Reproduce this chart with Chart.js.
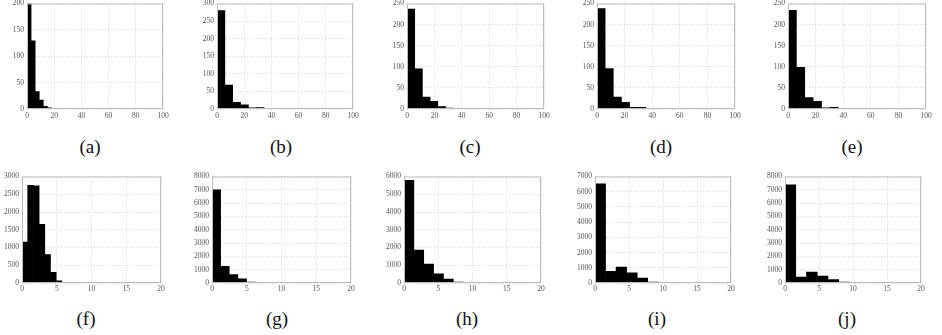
<!DOCTYPE html>
<html>
<head>
<meta charset="utf-8">
<script src="https://cdn.jsdelivr.net/npm/chart.js@4/dist/chart.umd.min.js"></script>
<style>
body { margin: 0; background: #fff; width: 942px; height: 335px; position: relative; overflow: hidden; font-family: "Liberation Serif", serif; }
canvas { position: absolute; }
.cap { position: absolute; font-size: 19px; color: #111; transform: translate(-50%, -50%); white-space: nowrap; }
</style>
</head>
<body>
<script>
// histogram counts per panel
const captions = ["(a)", "(b)", "(c)", "(d)", "(e)", "(f)", "(g)", "(h)", "(i)", "(j)"];
const binWidth = [3, 5.77, 5.62, 5.9, 6.07, 0.82, 1.24, 1.44, 1.55, 1.58];

const countsA = [200, 129, 33, 17, 5, 2, 1, 0, 0, 1];
const countsB = [280, 68, 19, 12, 3, 4, 1, 0, 0, 1];
const countsC = [237, 95, 28, 18, 6, 2, 1, 0, 0, 1];
const countsD = [238, 96, 28, 16, 4, 4, 1, 0, 0, 1];
const countsE = [234, 99, 27, 18, 3, 4, 1, 0, 0, 1];
const countsF = [1150, 2750, 2740, 1650, 800, 300, 60, 15, 5, 2];
const countsG = [7000, 1260, 640, 320, 75, 25, 8, 3];
const countsH = [5780, 1860, 1060, 520, 220, 56, 10, 3];
const countsI = [6520, 760, 1040, 670, 325, 65, 10, 3];
const countsJ = [7380, 450, 820, 520, 250, 75, 10, 3];
const allCounts = [countsA, countsB, countsC, countsD, countsE, countsF, countsG, countsH, countsI, countsJ];

// axis ranges / tick steps
const xMax = [100, 100, 100, 100, 100, 20, 20, 20, 20, 20];
const xStep = [20, 20, 20, 20, 20, 5, 5, 5, 5, 5];
const yMax = [200, 300, 250, 250, 250, 3000, 8000, 6000, 7000, 8000];
const yStep = [50, 50, 50, 50, 50, 500, 1000, 1000, 1000, 1000];

// layout: plot area [left, right, top, bottom] in page pixels, caption centres
const plotBox = [
    [27, 163, 2, 109], [217, 353, 2, 109], [407, 544, 2, 109], [597, 735, 2, 109], [788, 926, 2, 109],
    [22, 161, 175, 283], [212, 351, 175, 283], [404, 541, 175, 283], [595, 731, 175, 283], [785, 921, 175, 283]
];
const capPos = [
    [90, 147], [281, 147], [470, 147], [661, 147], [852, 147],
    [86, 319], [277, 319], [467, 319], [657, 319], [847, 319]
];

const PT = 6, PR = 10, XH = 14;

// gray box round the plot area
const frame = {
    id: "frame",
    afterDraw(chart) {
        const a = chart.chartArea;
        const ctx = chart.ctx;
        ctx.save();
        ctx.strokeStyle = "#bdbdbd";
        ctx.lineWidth = 1;
        ctx.strokeRect(a.left + 0.5, a.top + 0.5, a.right - a.left - 1, a.bottom - a.top - 1);
        ctx.restore();
    }
};

const tickFont = { family: "Liberation Serif", size: 7.5 };
const plain = (v) => String(v);

allCounts.forEach((counts, i) => {
    const [L, R, T, B] = plotBox[i];
    const yw = i < 5 ? 20 : 24;
    const cv = document.createElement("canvas");
    cv.width = (R - L) + yw + PR;
    cv.height = PT + (B - T) + XH;
    cv.style.left = (L - yw) + "px";
    cv.style.top = (T - PT) + "px";
    document.body.appendChild(cv);

    const w = binWidth[i];
    const points = counts.map((c, k) => ({ x: (k + 0.5) * w, y: c }));

    new Chart(cv, {
        type: "bar",
        data: {
            datasets: [{
                data: points,
                backgroundColor: "#000",
                borderWidth: 0,
                barPercentage: 1,
                categoryPercentage: 1,
                clip: 0,
            }],
        },
        options: {
            responsive: false,
            animation: false,
            layout: { padding: { top: PT, right: PR, left: 0, bottom: 0 } },
            plugins: { legend: { display: false }, tooltip: { enabled: false } },
            scales: {
                x: {
                    type: "linear",
                    offset: false,
                    min: 0,
                    max: xMax[i],
                    grid: { color: "#d4d4d4", offset: false, drawTicks: false },
                    border: { display: false, dash: [1, 2] },
                    ticks: { stepSize: xStep[i], autoSkip: false, maxRotation: 0, padding: i < 5 ? 3 : 2, color: "#555", font: tickFont, callback: plain },
                    afterFit(scale) { scale.height = XH; },
                },
                y: {
                    min: 0,
                    max: yMax[i],
                    grid: { color: "#d4d4d4", drawTicks: false },
                    border: { display: false, dash: [1, 2] },
                    ticks: { stepSize: yStep[i], padding: 3, color: "#555", font: tickFont, callback: plain },
                    afterFit(scale) { scale.width = yw; },
                },
            },
        },
        plugins: [frame],
    });

    const cap = document.createElement("div");
    cap.className = "cap";
    cap.textContent = captions[i];
    cap.style.left = capPos[i][0] + "px";
    cap.style.top = capPos[i][1] + "px";
    document.body.appendChild(cap);
});
</script>
</body>
</html>
